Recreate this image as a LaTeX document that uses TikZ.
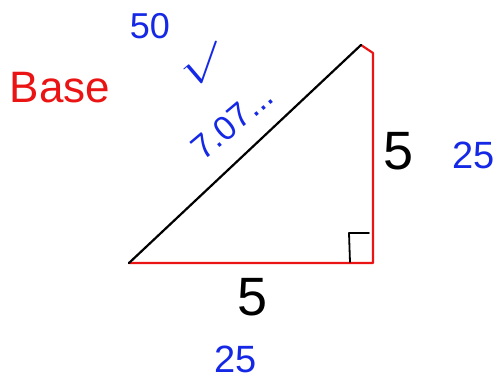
\documentclass[tikz,border=0pt]{standalone}
\usepackage{fontspec}
\setmainfont{Liberation Sans}
\definecolor{penblue}{RGB}{20,40,230}
\definecolor{penred}{RGB}{235,20,20}
\begin{document}
\begin{tikzpicture}[x=1pt,y=-1pt,
  redline/.style={draw=penred,line width=2.2pt,line cap=round,line join=round},
  blackline/.style={draw=black,line width=2.2pt,line cap=round,line join=round},
  bluetxt/.style={text=penblue,font=\fontsize{38}{38}\selectfont,inner sep=0pt},
  blacktxt/.style={text=black,font=\fontsize{54}{54}\selectfont,inner sep=0pt}]
\useasboundingbox[fill=white] (0,0) rectangle (499,383);
\coordinate (A) at (129,263);
\coordinate (B) at (373,263);
\coordinate (Cc) at (373,53);
\coordinate (C) at (361,45);
\draw[redline] (A) -- (B) -- (Cc) -- (C);
\draw[blackline] (A) -- (C);
\coordinate (r1) at (350,262);
\coordinate (r2) at (349,233);
\coordinate (r3) at (369,233);
\draw[blackline,line width=1.8pt] (r1) -- (r2) -- (r3);
\node[text=penred,font=\fontsize{44}{44}\selectfont,inner sep=0pt] (base) at (60,88) {Base};
\node[bluetxt,font=\fontsize{36}{36}\selectfont] (fifty) at (150,26) {50};
\node[text=penblue,inner sep=0pt,xscale=5,yscale=4,rotate=10] (root) at (200,64) {$\surd$};
\node[bluetxt,font=\fontsize{34}{34}\selectfont,rotate=40] (hyp) at (232,122) {7.07...};
\node[blacktxt] (five1) at (399,151) {5};
\node[bluetxt] (tf1) at (474,155) {25};
\node[blacktxt] (five2) at (253,297) {5};
\node[bluetxt] (tf2) at (236,359) {25};
\end{tikzpicture}
\end{document}
